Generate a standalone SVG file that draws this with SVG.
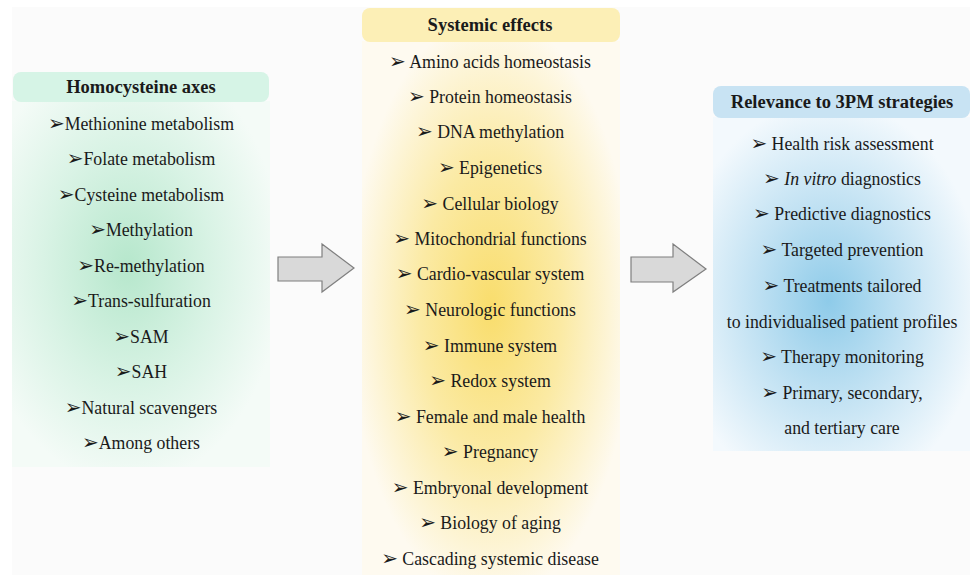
<svg xmlns="http://www.w3.org/2000/svg" width="970" height="575" viewBox="0 0 970 575">
<defs>
<radialGradient id="gGreen" cx="0.45" cy="0.45" r="0.6">
<stop offset="0" stop-color="#b6e7cc"/>
<stop offset="0.55" stop-color="#d9f3e5"/>
<stop offset="1" stop-color="#f4fbf7"/>
</radialGradient>
<radialGradient id="gYellow" cx="0.5" cy="0.5" r="0.55">
<stop offset="0" stop-color="#f9dd6c"/>
<stop offset="0.5" stop-color="#fbeaa4"/>
<stop offset="1" stop-color="#fefaf0"/>
</radialGradient>
<radialGradient id="gBlue" cx="0.45" cy="0.55" r="0.6">
<stop offset="0" stop-color="#8ecbe9"/>
<stop offset="0.5" stop-color="#c2e2f3"/>
<stop offset="1" stop-color="#f3f9fd"/>
</radialGradient>
</defs>
<style>
text{font-family:"Liberation Serif","Times New Roman",serif;font-size:17.8px;fill:#1a1a1a;text-anchor:middle}
.h{font-weight:bold;font-size:18.5px}
.b{font-family:"DejaVu Sans",sans-serif;font-size:20px}
.arrow{fill:#d9d9d9;stroke:#7f7f7f;stroke-width:1.2}
</style>
<rect x="0" y="0" width="970" height="575" fill="#ffffff"/>
<rect x="12" y="7" width="958" height="568" fill="#fbfbfb"/>

<g id="homocysteine-axes">
<rect x="12" y="101" width="258" height="366" fill="url(#gGreen)"/>
<rect x="13" y="72" width="256" height="30" rx="8" fill="#d6f4e6"/>
<text class="h" x="141" y="93">Homocysteine axes</text>
<text x="141" y="130"><tspan class="b">➢</tspan>Methionine metabolism</text>
<text x="141" y="165"><tspan class="b">➢</tspan>Folate metabolism</text>
<text x="141" y="201"><tspan class="b">➢</tspan>Cysteine metabolism</text>
<text x="141" y="236"><tspan class="b">➢</tspan>Methylation</text>
<text x="141" y="272"><tspan class="b">➢</tspan>Re-methylation</text>
<text x="141" y="307"><tspan class="b">➢</tspan>Trans-sulfuration</text>
<text x="141" y="343"><tspan class="b">➢</tspan>SAM</text>
<text x="141" y="378"><tspan class="b">➢</tspan>SAH</text>
<text x="141" y="414"><tspan class="b">➢</tspan>Natural scavengers</text>
<text x="141" y="449"><tspan class="b">➢</tspan>Among others</text>
</g>

<g id="systemic-effects">
<rect x="362" y="41" width="258" height="534" fill="url(#gYellow)"/>
<rect x="362" y="8" width="258" height="34" rx="8" fill="#fcefb6"/>
<text class="h" x="490" y="31">Systemic effects</text>
<text x="490" y="68"><tspan class="b">➢</tspan> Amino acids homeostasis</text>
<text x="490" y="103"><tspan class="b">➢</tspan> Protein homeostasis</text>
<text x="490" y="138"><tspan class="b">➢</tspan> DNA methylation</text>
<text x="490" y="174"><tspan class="b">➢</tspan> Epigenetics</text>
<text x="490" y="210"><tspan class="b">➢</tspan> Cellular biology</text>
<text x="490" y="245"><tspan class="b">➢</tspan> Mitochondrial functions</text>
<text x="490" y="280"><tspan class="b">➢</tspan> Cardio-vascular system</text>
<text x="490" y="316"><tspan class="b">➢</tspan> Neurologic functions</text>
<text x="490" y="352"><tspan class="b">➢</tspan> Immune system</text>
<text x="490" y="387"><tspan class="b">➢</tspan> Redox system</text>
<text x="490" y="423"><tspan class="b">➢</tspan> Female and male health</text>
<text x="490" y="458"><tspan class="b">➢</tspan> Pregnancy</text>
<text x="490" y="494"><tspan class="b">➢</tspan> Embryonal development</text>
<text x="490" y="529"><tspan class="b">➢</tspan> Biology of aging</text>
<text x="490" y="565"><tspan class="b">➢</tspan> Cascading systemic disease</text>
</g>

<g id="relevance-3pm">
<rect x="713" y="117" width="257" height="334" fill="url(#gBlue)"/>
<rect x="713" y="86" width="257" height="32" rx="8" fill="#c8e3f3"/>
<text class="h" x="842" y="108">Relevance to 3PM strategies</text>
<text x="842" y="150"><tspan class="b">➢</tspan> Health risk assessment</text>
<text x="842" y="185"><tspan class="b">➢</tspan> <tspan font-style="italic">In vitro</tspan> diagnostics</text>
<text x="842" y="220"><tspan class="b">➢</tspan> Predictive diagnostics</text>
<text x="842" y="256"><tspan class="b">➢</tspan> Targeted prevention</text>
<text x="842" y="292"><tspan class="b">➢</tspan> Treatments tailored</text>
<text x="842" y="328">to individualised patient profiles</text>
<text x="842" y="363"><tspan class="b">➢</tspan> Therapy monitoring</text>
<text x="842" y="399"><tspan class="b">➢</tspan> Primary, secondary,</text>
<text x="842" y="434">and tertiary care</text>
</g>

<g id="connectors">
<polygon class="arrow" points="278,257 322,257 322,244 354,268 322,292 322,281 278,281"/>
<polygon class="arrow" points="631,257 673,257 673,244 706,269 673,292 673,282 631,282"/>
</g>
</svg>
